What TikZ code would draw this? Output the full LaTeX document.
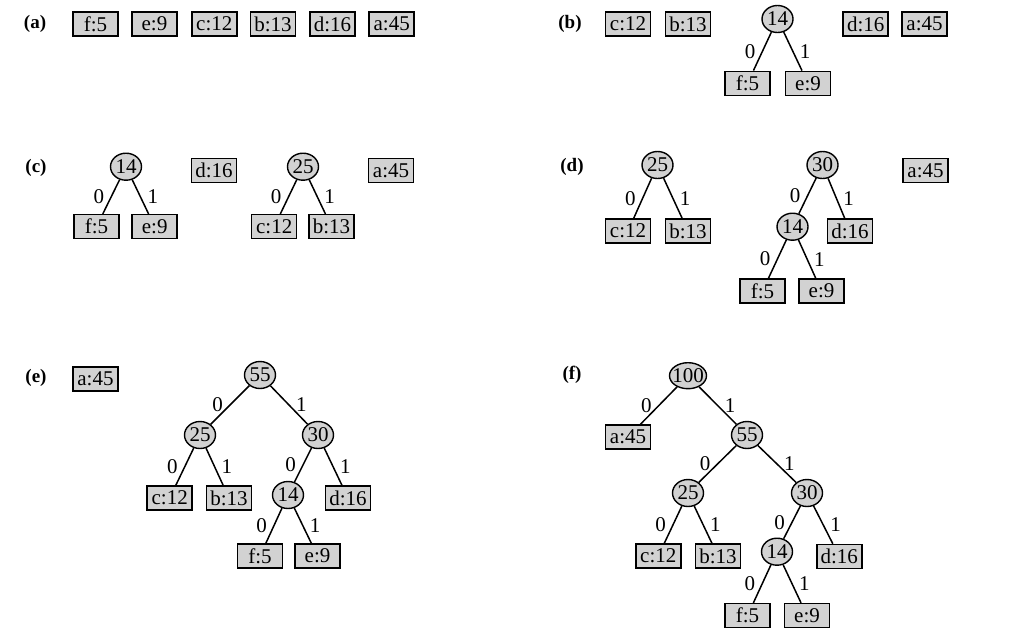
\documentclass[tikz,border=0pt]{standalone}
\usepackage{fontspec}
\setmainfont{Liberation Serif}
\usetikzlibrary{shapes.geometric}
\tikzset{
  leaf/.style={draw, line width=1.5pt, fill=gray!35, rectangle,
    minimum width=45pt, minimum height=24pt, inner sep=2pt},
  knot/.style={draw, line width=1.4pt, fill=gray!35, ellipse,
    minimum width=31pt, minimum height=27pt, inner sep=0pt},
  panel/.style={font=\fontsize{19}{22}\selectfont\bfseries},
  branch/.style={draw, line width=1.5pt},
  bit0/.style={midway, left=3pt},
  bit1/.style={midway, right=3pt},
}
\begin{document}
\begin{tikzpicture}[x=1pt, y=-1pt, font=\fontsize{21}{24}\selectfont]
			\useasboundingbox[fill=white] (0,0) rectangle (1024,640);
			
			% (a) forest of leaves
			\node[panel] (la) at (35, 24) {(a)};
			\node[leaf] (a-f5) at (95.5, 24) {f:5};
			\node[leaf] (a-e9) at (154.5, 24) {e:9};
			\node[leaf] (a-c12) at (214.3, 24) {c:12};
			\node[leaf] (a-b13) at (273, 24) {b:13};
			\node[leaf] (a-d16) at (332.5, 24) {d:16};
			\node[leaf] (a-a45) at (391.7, 24) {a:45};
			
			% (b) f and e merged
			\node[panel] (lb) at (570, 24) {(b)};
			\node[leaf] (b-c12) at (628, 24) {c:12};
			\node[leaf] (b-b13) at (688, 24) {b:13};
			\node[knot] (b-14) at (777.5, 19) {14}; % root
			\node[leaf] (b-d16) at (865.7, 24) {d:16};
			\node[leaf] (b-a45) at (924.5, 24) {a:45};
			\node[leaf] (b-f5) at (747.5, 83.3) {f:5};
			\node[leaf] (b-e9) at (808, 83.3) {e:9};
			
			% (c) c and b merged
			\node[panel] (lc) at (36, 168) {(c)};
			\node[knot] (c-14) at (126, 166.7) {14}; % root
			\node[leaf] (c-d16) at (214, 170.5) {d:16};
			\node[knot] (c-25) at (303, 166.7) {25}; % root
			\node[leaf] (c-a45) at (391, 170.5) {a:45};
			\node[leaf] (c-f5) at (96.5, 226.7) {f:5};
			\node[leaf] (c-e9) at (154.7, 226.7) {e:9};
			\node[leaf] (c-c12) at (274.2, 226.7) {c:12};
			\node[leaf] (c-b13) at (331.5, 226.7) {b:13};
			
			% (d) 14 and d merged
			\node[panel] (ld) at (572, 167) {(d)};
			\node[knot] (d-25) at (657.5, 165) {25}; % root
			\node[knot] (d-30) at (822.5, 165) {30}; % root
			\node[leaf] (d-a45) at (925.5, 170.5) {a:45};
			\node[leaf] (d-c12) at (628, 231) {c:12};
			\node[leaf] (d-b13) at (688, 231) {b:13};
			\node[knot] (d-14) at (792.5, 226.7) {14};
			\node[leaf] (d-d16) at (850, 231) {d:16};
			\node[leaf] (d-f5) at (762.5, 291) {f:5};
			\node[leaf] (d-e9) at (821.5, 291) {e:9};
			
			% (e) 25 and 30 merged
			\node[panel] (le) at (36, 378) {(e)};
			\node[leaf] (e-a45) at (95.5, 379) {a:45};
			\node[knot] (e-55) at (260, 375) {55}; % root
			\node[knot] (e-25) at (200, 435) {25};
			\node[knot] (e-30) at (318, 435) {30};
			\node[leaf] (e-c12) at (169.7, 498) {c:12};
			\node[leaf] (e-b13) at (229, 498) {b:13};
			\node[knot] (e-14) at (288, 495) {14};
			\node[leaf] (e-d16) at (348, 498) {d:16};
			\node[leaf] (e-f5) at (260, 556) {f:5};
			\node[leaf] (e-e9) at (317.5, 556) {e:9};
			
			% (f) final tree
			\node[panel] (lf) at (572, 375) {(f)};
			\node[knot, minimum width=37pt, minimum height=26pt] (f-100) at (688, 375.7) {\makebox[0pt]{100}}; % root
			\node[leaf] (f-a45) at (628, 437) {a:45};
			\node[knot] (f-55) at (747, 435) {55};
			\node[knot] (f-25) at (688, 493) {25};
			\node[knot] (f-30) at (807, 493) {30};
			\node[leaf] (f-c12) at (658.3, 556) {c:12};
			\node[leaf] (f-b13) at (718, 556) {b:13};
			\node[knot] (f-14) at (777, 551.7) {14};
			\node[leaf] (f-d16) at (839.3, 556.5) {d:16};
			\node[leaf] (f-f5) at (747.5, 615.6) {f:5};
			\node[leaf] (f-e9) at (807, 615.6) {e:9};
			
			% DRAW TREES
			\path[branch] (b-14)--(b-f5) node[bit0] {0};
			\path[branch] (b-14)--(b-e9) node[bit1] {1};
			
			\path[branch] (c-14)--(c-f5) node[bit0] {0};
			\path[branch] (c-14)--(c-e9) node[bit1] {1};
			\path[branch] (c-25)--(c-c12) node[bit0] {0};
			\path[branch] (c-25)--(c-b13) node[bit1] {1};
			
			\path[branch] (d-25)--(d-c12) node[bit0] {0};
			\path[branch] (d-25)--(d-b13) node[bit1] {1};
			\path[branch] (d-30)--(d-14) node[bit0] {0};
			\path[branch] (d-30)--(d-d16) node[bit1] {1};
			\path[branch] (d-14)--(d-f5) node[bit0] {0};
			\path[branch] (d-14)--(d-e9) node[bit1] {1};
			
			\path[branch] (e-55)--(e-25) node[bit0] {0};
			\path[branch] (e-55)--(e-30) node[bit1] {1};
			\path[branch] (e-25)--(e-c12) node[bit0] {0};
			\path[branch] (e-25)--(e-b13) node[bit1] {1};
			\path[branch] (e-30)--(e-14) node[bit0] {0};
			\path[branch] (e-30)--(e-d16) node[bit1] {1};
			\path[branch] (e-14)--(e-f5) node[bit0] {0};
			\path[branch] (e-14)--(e-e9) node[bit1] {1};
			
			\path[branch] (f-100)--(f-a45) node[bit0] {0};
			\path[branch] (f-100)--(f-55) node[bit1] {1};
			\path[branch] (f-55)--(f-25) node[bit0] {0};
			\path[branch] (f-55)--(f-30) node[bit1] {1};
			\path[branch] (f-25)--(f-c12) node[bit0] {0};
			\path[branch] (f-25)--(f-b13) node[bit1] {1};
			\path[branch] (f-30)--(f-14) node[bit0] {0};
			\path[branch] (f-30)--(f-d16) node[bit1] {1};
			\path[branch] (f-14)--(f-f5) node[bit0] {0};
			\path[branch] (f-14)--(f-e9) node[bit1] {1};
		\end{tikzpicture}
\end{document}
